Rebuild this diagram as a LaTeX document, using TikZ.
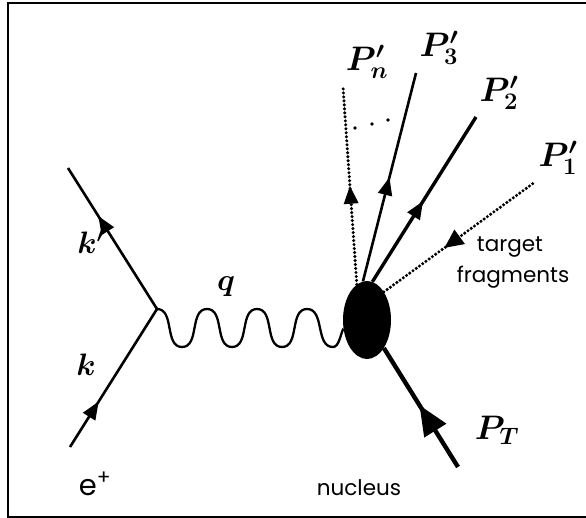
\RequirePackage{fix-cm}
\documentclass[tikz,border=0pt]{standalone}
\usepackage{amsmath,bm}
\usepackage{fontspec}
\newfontfamily\gothfont{Poppins}
\usetikzlibrary{arrows.meta,decorations.markings,shapes.geometric}
\tikzset{>=Stealth,
  fermion/.style={line width=2.6pt},
  hadron/.style={line width=3.4pt},
  target/.style={line width=4.4pt},
  dotline/.style={line width=3.4pt,dash pattern=on 0pt off 4pt,line cap=round},
  midarrow/.style={postaction={decorate},decoration={markings,mark=at position #1 with {\arrow{Triangle[length=18pt,width=14pt]}}}},
  revarrow/.style={postaction={decorate},decoration={markings,mark=at position #1 with {\arrowreversed{Triangle[length=19pt,width=17pt]}}}},
  bigarrow/.style={postaction={decorate},decoration={markings,mark=at position #1 with {\arrow{Triangle[length=30pt,width=25pt]}}}},
  plab/.style={font=\fontsize{34}{38}\selectfont},
  mlab/.style={font=\fontsize{31}{34}\selectfont},
  txt/.style={font=\gothfont\fontsize{21.5}{24}\selectfont,inner sep=0pt}}
\begin{document}
\begin{tikzpicture}[x=1pt,y=-1pt]
\useasboundingbox (0,0) rectangle (586,518);
\draw[line width=2.4pt] (586,3) -- (8,3) -- (8,517) -- (586,517);
% vertex and nucleus
\coordinate (V) at (157,309);
\node[ellipse,fill,minimum width=48pt,minimum height=78pt,inner sep=0pt] (nuc) at (367,320) {};
% free ends
\coordinate (kin) at (70,447);
\coordinate (kout) at (68,168);
\coordinate (pT) at (458,467);
\coordinate (p1) at (535,182);
\coordinate (p2) at (476,117);
\coordinate (p3) at (416,73);
\coordinate (pn) at (343,87);
% lepton
\draw[fermion,midarrow=.33] (kin) -- (V);
\draw[fermion,midarrow=.66] (V) -- (kout);
% photon
\draw[line width=2.3pt] (V) to[out=0,in=180] ++(25,38) to[out=0,in=180] ++(25,-38)
  to[out=0,in=180] ++(25,38) to[out=0,in=180] ++(25,-38) to[out=0,in=180] ++(25,38)
  to[out=0,in=180] ++(25,-38) to[out=0,in=180] ++(26,38) .. controls +(6,0) and +(-3,6) .. (nuc.200);
% hadrons
\draw[dotline,midarrow=.5] (nuc.106) -- (pn);
\draw[fermion,midarrow=.5] (nuc.96) -- (p3);
\draw[hadron,midarrow=.49] (nuc.82) -- (p2);
\draw[dotline,revarrow=.4] (nuc.59) -- (p1);
\draw[target,bigarrow=.52] (pT) -- (nuc.-59);
\foreach \x/\y in {355/128,372/124,388/120}{\fill (\x,\y) circle (1.8);}
% labels
\node[plab] (lpn) at (367,62) {$\bm{P'_{n}}$};
\node[plab] (lp3) at (439,48) {$\bm{P'_{3}}$};
\node[plab] (lp2) at (499,93) {$\bm{P'_{2}}$};
\node[plab] (lp1) at (558,158) {$\bm{P'_{1}}$};
\node[plab] (lpT) at (497,430) {$\bm{P_{T}}$};
\node[mlab] (lkp) at (91,242) {$\bm{k'}$};
\node[mlab] (lk) at (86,365) {$\bm{k}$};
\node[mlab] (lq) at (226,287) {$\bm{q}$};
\node[txt,font=\gothfont\fontsize{29}{32}\selectfont] (le) at (95,484) {e\textsuperscript{+}};
\node[txt] (ltg) at (510,247) {target};
\node[txt] (lfr) at (513,277) {fragments};
\node[txt] (lnu) at (359,488) {nucleus};
\end{tikzpicture}
\end{document}
